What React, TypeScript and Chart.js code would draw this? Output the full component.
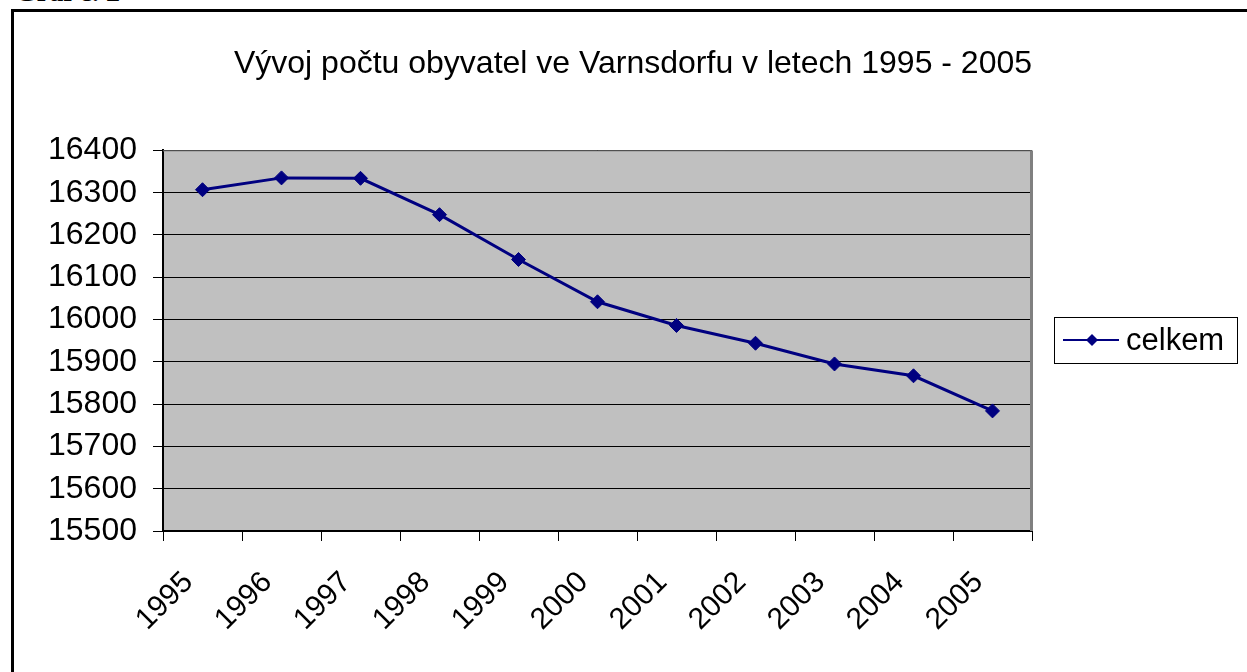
import React, { useEffect, useRef } from "react";
import { Chart, registerables } from "chart.js";

Chart.register(...registerables);

const years = ["1995", "1996", "1997", "1998", "1999", "2000", "2001", "2002", "2003", "2004", "2005"];
const celkem = [16307, 16335, 16334, 16248, 16142, 16042, 15986, 15944, 15895, 15867, 15784];
const seriesLabel = "celkem";
const chartTitle = "Vývoj počtu obyvatel ve Varnsdorfu v letech 1995 - 2005";
const yMin = 15500;
const yMax = 16400;
const yStep = 100;

const FONT = "'Liberation Sans', Arial, sans-serif";
const NAVY = "#000080";

const plotBg = {
  id: "plotBg",
  beforeDraw(chart: any) {
    const { ctx, chartArea: a } = chart;
    ctx.save();
    ctx.fillStyle = "#C0C0C0";
    ctx.fillRect(a.left, a.top, a.right - a.left, a.bottom - a.top);
    ctx.restore();
  },
  beforeDatasetsDraw(chart: any) {
    const { ctx, chartArea: a } = chart;
    ctx.save();
    ctx.strokeStyle = "#808080";
    ctx.lineWidth = 1;
    ctx.beginPath();
    ctx.moveTo(a.left, a.top + 0.5);
    ctx.lineTo(a.right, a.top + 0.5);
    ctx.stroke();
    ctx.lineWidth = 3;
    ctx.beginPath();
    ctx.moveTo(a.right - 0.5, a.top);
    ctx.lineTo(a.right - 0.5, a.bottom);
    ctx.stroke();
    ctx.restore();
  },
};

const boxLegend = {
  id: "boxLegend",
  afterDraw(chart: any) {
    const { ctx } = chart;
    const ds = chart.data.datasets[0];
    const x = 1054, y = 317, w = 183, h = 46;
    const cy = y + h / 2;
    ctx.save();
    ctx.fillStyle = "#fff";
    ctx.fillRect(x, y, w, h);
    ctx.strokeStyle = "#000";
    ctx.lineWidth = 1;
    ctx.strokeRect(x + 0.5, y + 0.5, w, h);
    ctx.strokeStyle = NAVY;
    ctx.lineWidth = 2;
    ctx.beginPath();
    ctx.moveTo(x + 9, cy);
    ctx.lineTo(x + 65, cy);
    ctx.stroke();
    ctx.fillStyle = NAVY;
    const r = 6;
    const mx = x + 38;
    ctx.beginPath();
    ctx.moveTo(mx - r, cy);
    ctx.lineTo(mx, cy - r);
    ctx.lineTo(mx + r, cy);
    ctx.lineTo(mx, cy + r);
    ctx.closePath();
    ctx.fill();
    ctx.fillStyle = "#000";
    ctx.font = `31px ${FONT}`;
    ctx.textBaseline = "middle";
    ctx.textAlign = "left";
    ctx.fillText(ds.label, x + 72, cy + 1);
    ctx.restore();
  },
};

export default function App() {
  const ref = useRef<HTMLCanvasElement>(null);

  useEffect(() => {
    if (!ref.current) return;
    const chart = new Chart(ref.current, {
      type: "line",
      data: {
        labels: years,
        datasets: [
          {
            label: seriesLabel,
            data: celkem,
            borderColor: NAVY,
            backgroundColor: NAVY,
            borderWidth: 3,
            pointStyle: "rectRot",
            pointRadius: 7,
            pointBorderWidth: 1,
            pointBackgroundColor: NAVY,
            pointBorderColor: NAVY,
            tension: 0,
          },
        ],
      },
      options: {
        responsive: false,
        animation: false,
        layout: { padding: { left: 19, right: 0, top: 0, bottom: 0 } },
        plugins: {
          legend: { display: false },
          tooltip: { enabled: false },
          title: {
            display: true,
            text: chartTitle,
            color: "#000",
            font: { family: FONT, size: 32, weight: "normal" },
            padding: { top: 45, bottom: 67 },
          },
        },
        scales: {
          x: {
            type: "category",
            offset: true,
            grid: {
              offset: true,
              drawOnChartArea: false,
              drawTicks: true,
              tickLength: 10,
              color: "#000",
            },
            border: { display: true, color: "#000", width: 2 },
            ticks: {
              color: "#000",
              font: { family: FONT, size: 30 },
              maxRotation: 45,
              minRotation: 45,
              padding: 24,
              labelOffset: -14,
              autoSkip: false,
            },
            afterFit(scale: any) {
              scale.height = 141;
            },
          },
          y: {
            min: yMin,
            max: yMax,
            grid: {
              color: "#000",
              tickLength: 10,
              drawTicks: true,
            },
            border: { display: true, color: "#000", width: 2 },
            ticks: {
              stepSize: yStep,
              color: "#000",
              font: { family: FONT, size: 32 },
              padding: 16,
              callback: (v: any) => String(v),
            },
            afterFit(scale: any) {
              scale.width = 144;
            },
          },
          side: {
            type: "linear",
            position: "right",
            display: true,
            grid: { display: false, drawTicks: false },
            border: { display: false },
            ticks: { display: false },
            afterFit(scale: any) {
              scale.width = 215;
            },
          },
        },
      },
      plugins: [plotBg, boxLegend],
    });
    return () => chart.destroy();
  }, []);

  return (
    <div
      style={{
        position: "absolute",
        left: 0,
        top: 0,
        width: 1247,
        height: 672,
        overflow: "hidden",
        background: "#fff",
      }}
    >
      <div
        style={{
          position: "absolute",
          left: 15,
          top: -22,
          font: "bold 28px 'Liberation Serif', 'Times New Roman', serif",
          lineHeight: "28px",
          whiteSpace: "nowrap",
          color: "#000",
        }}
      >
        Graf č. 2
      </div>
      <div
        style={{
          position: "absolute",
          left: 11,
          top: 9,
          width: 1260,
          height: 700,
          borderLeft: "3px solid #000",
          borderTop: "3px solid #000",
        }}
      />
      <canvas
        ref={ref}
        width={1247}
        height={672}
        style={{ position: "absolute", left: 0, top: 0, width: 1247, height: 672 }}
      />
    </div>
  );
}
